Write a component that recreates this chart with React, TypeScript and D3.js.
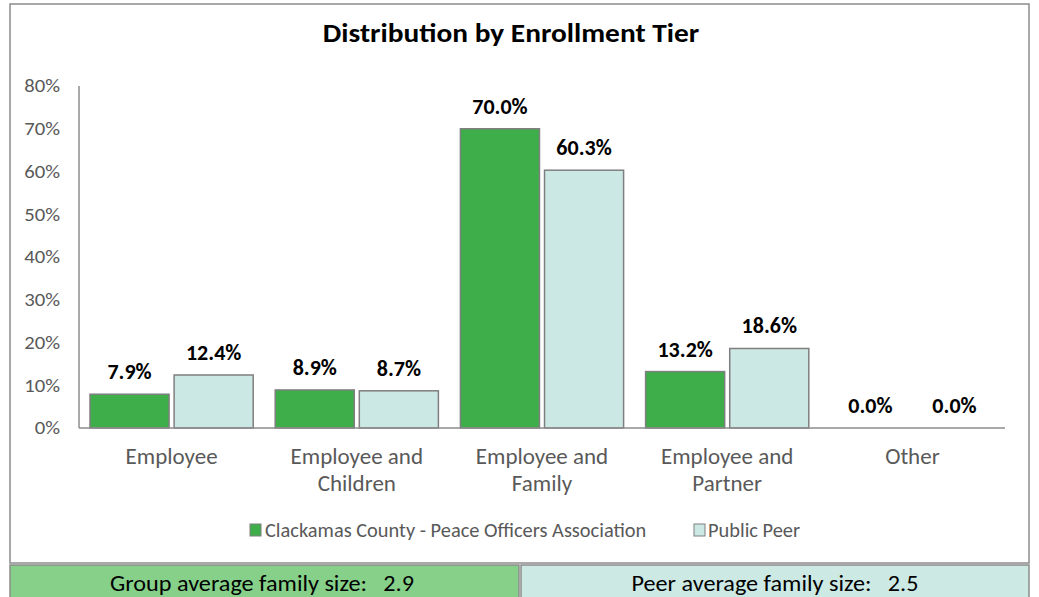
import React from "react";
import * as d3 from "d3";

const categories = [["Employee"], ["Employee and", "Children"], ["Employee and", "Family"], ["Employee and", "Partner"], ["Other"]];
const groupValues = [7.9, 8.9, 70.0, 13.2, 0.0];
const peerValues = [12.4, 8.7, 60.3, 18.6, 0.0];
const seriesNames = ["Clackamas County - Peace Officers Association", "Public Peer"];
const yTicks = [0, 10, 20, 30, 40, 50, 60, 70, 80];
const groupAvg = "2.9";
const peerAvg = "2.5";

const W = 1039, H = 597;
const FONT = "Carlito, Calibri, 'Open Sans', sans-serif";

function T(props: { x: number; y: number; sx?: number; size: number; anchor?: string; bold?: boolean; fill?: string; dy?: string; children: any }) {
  const { x, y, sx = 1, size, anchor = "start", bold, fill = "#000", dy, children } = props;
  return (
    <text transform={`translate(${x},${y}) scale(${sx},1)`} x={0} y={0} dy={dy} textAnchor={anchor} fontSize={size}
      fontWeight={bold ? "bold" : "normal"} fill={fill} style={{ whiteSpace: "pre" }}>{children}</text>
  );
}

export default function App() {
  const x0 = d3.scaleBand().domain(categories.map((_, i) => String(i))).range([79, 1005]).paddingInner(0).paddingOuter(0);
  const x1 = d3.scaleBand().domain(["g", "p"]).range([11, x0.bandwidth() - 11]).paddingInner(0.06);
  const y = d3.scaleLinear().domain([0, 80]).range([428, 86]);
  const colors = ["#3DAE4A", "#CCE8E4"];
  const series = [groupValues, peerValues];
  return (
    <svg width={W} height={H} style={{ position: "absolute", left: 0, top: 0 }} fontFamily={FONT}>
      <rect x={10} y={4} width={1019} height={559} fill="#fff" stroke="#8c8c8c" strokeWidth={1.5} />
      <T x={511} y={42} anchor="middle" bold size={26} sx={1.13}>Distribution by Enrollment Tier</T>
      {yTicks.map(t => (
        <T key={t} x={60} y={y(t)} dy="0.35em" anchor="end" size={18} sx={1.15} fill="#595959">{`${t}%`}</T>
      ))}
      {categories.map((c, i) => (
        <g key={i} transform={`translate(${x0(String(i))},0)`}>
          {series.map((s, j) => {
            const bx = x1(j === 0 ? "g" : "p")!;
            const bw = x1.bandwidth();
            const v = s[i];
            return (
              <g key={j}>
                {v > 0 && <rect x={bx} y={y(v)} width={bw} height={y(0) - y(v)} fill={colors[j]} stroke="#7f7f7f" strokeWidth={1.5} />}
                <T x={bx + bw / 2} y={y(v) - 15} anchor="middle" bold size={22}>{`${v.toFixed(1)}%`}</T>
              </g>
            );
          })}
          {c.map((line, k) => (
            <T key={k} x={x0.bandwidth() / 2} y={464 + k * 27} anchor="middle" size={23} fill="#595959">{line}</T>
          ))}
        </g>
      ))}
      <line x1={79} x2={79} y1={86} y2={428} stroke="#8c8c8c" strokeWidth={1.5} />
      <line x1={79} x2={1005} y1={428} y2={428} stroke="#8c8c8c" strokeWidth={1.5} />
      <rect x={250} y={524} width={11} height={12} fill={colors[0]} stroke="#7f7f7f" />
      <T x={265} y={537} size={20} sx={1.02} fill="#595959">{seriesNames[0]}</T>
      <rect x={694} y={524} width={11} height={12} fill={colors[1]} stroke="#7f7f7f" />
      <T x={708} y={537} size={20} sx={1.02} fill="#595959">{seriesNames[1]}</T>
      <rect x={10} y={565} width={509} height={34} fill="#86D08A" stroke="#8c8c8c" strokeWidth={1.5} />
      <rect x={521} y={565} width={508} height={34} fill="#CCE9E4" stroke="#8c8c8c" strokeWidth={1.5} />
      <T x={262} y={591} anchor="middle" size={22} sx={1.1}>{`Group average family size:   ${groupAvg}`}</T>
      <T x={775} y={591} anchor="middle" size={22} sx={1.1}>{`Peer average family size:   ${peerAvg}`}</T>
    </svg>
  );
}
